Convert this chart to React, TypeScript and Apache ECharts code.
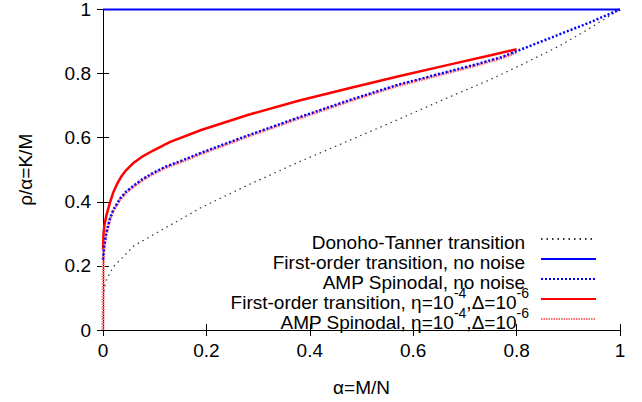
import React, { useEffect, useRef } from "react";
import * as echarts from "echarts";

// Donoho-Tanner transition
const dtAlpha = [0, 0.0005, 0.002, 0.006, 0.02, 0.06, 0.12, 0.19, 0.28, 0.38, 0.47, 0.57, 0.67, 0.75, 0.81, 0.88, 0.94, 1];
const dtRho = [0, 0.09, 0.125, 0.155, 0.197, 0.263, 0.318, 0.382, 0.452, 0.525, 0.587, 0.656, 0.727, 0.782, 0.828, 0.884, 0.94, 1];

// First-order transition, no noise
const foAlpha = [0, 1];
const foRho = [1, 1];

// AMP spinodal, no noise
const spAlpha = [0, 0.002, 0.006, 0.0135, 0.02, 0.033, 0.045, 0.059, 0.075, 0.091, 0.12, 0.155, 0.19, 0.28, 0.38, 0.48, 0.57, 0.67, 0.72, 0.77, 0.805, 0.8775, 0.942, 1];
const spRho = [0.22, 0.26, 0.3, 0.348, 0.375, 0.41, 0.432, 0.45, 0.469, 0.485, 0.509, 0.53, 0.553, 0.607, 0.664, 0.719, 0.765, 0.807, 0.828, 0.851, 0.873, 0.919, 0.96, 1];

// First-order transition with noise
const foNAlpha = [0, 0.001, 0.003, 0.007, 0.013, 0.02, 0.027, 0.035, 0.045, 0.058, 0.075, 0.097, 0.13, 0.19, 0.28, 0.38, 0.48, 0.57, 0.67, 0.75, 0.8];
const foNRho = [0.25, 0.3, 0.33, 0.36, 0.395, 0.43, 0.455, 0.478, 0.499, 0.52, 0.54, 0.56, 0.587, 0.624, 0.671, 0.716, 0.756, 0.791, 0.828, 0.857, 0.876];

// AMP spinodal with noise
const spNAlpha = [0, 0.0002, 0.0006, 0.002, 0.006, 0.0135, 0.02, 0.033, 0.045, 0.059, 0.075, 0.091, 0.12, 0.155, 0.19, 0.28, 0.38, 0.48, 0.57, 0.67, 0.72, 0.77, 0.8];
const spNRho = [0, 0.1, 0.2, 0.255, 0.297, 0.345, 0.372, 0.407, 0.429, 0.447, 0.466, 0.482, 0.506, 0.527, 0.55, 0.604, 0.661, 0.716, 0.762, 0.804, 0.825, 0.848, 0.866];

const seriesNames = [
  "Donoho-Tanner transition",
  "First-order transition, no noise",
  "AMP Spinodal, no noise",
  "First-order transition, η=10-4,Δ=10-6",
  "AMP Spinodal, η=10-4,Δ=10-6",
];
const legendRich: Record<string, string> = {
  [seriesNames[0]]: "{m|Donoho-Tanner transition}{s| }",
  [seriesNames[1]]: "{m|First-order transition, no noise}{s| }",
  [seriesNames[2]]: "{m|AMP Spinodal, no noise}{s| }",
  [seriesNames[3]]: "{m|First-order transition, η=10}{s|-4}{m|,Δ=10}{s|-6}",
  [seriesNames[4]]: "{m|AMP Spinodal, η=10}{s|-4}{m|,Δ=10}{s|-6}",
};

const FONT = "'Liberation Sans', Arial, Helvetica, sans-serif";

const zip = (a: number[], b: number[]) => a.map((x, i) => [x, b[i]]);

export default function App() {
  const ref = useRef<HTMLDivElement>(null);
  useEffect(() => {
    const chart = echarts.init(ref.current!, null, { renderer: "svg" });
    const axisCommon = {
      type: "value" as const,
      min: 0,
      max: 1,
      interval: 0.2,
      splitLine: { show: false },
      axisLine: { show: true, lineStyle: { color: "#000", width: 1 } },
      axisTick: { show: true, inside: true, length: 6, lineStyle: { color: "#000", width: 1 } },
    };
    chart.setOption({
      animation: false,
      backgroundColor: "#fff",
      grid: { left: 103, right: 22, top: 5, bottom: 67 },
      xAxis: [
        {
          ...axisCommon,
          position: "bottom",
          name: "α=M/N",
          nameLocation: "middle",
          nameGap: 48,
          nameTextStyle: { fontFamily: FONT, fontSize: 19, color: "#000" },
          axisLabel: { margin: 11, fontFamily: FONT, fontSize: 19, color: "#000" },
        },
        {
          ...axisCommon,
          position: "top",
          z: 10,
          axisLabel: { show: false },
        },
      ],
      yAxis: [
        {
          ...axisCommon,
          position: "left",
          name: "ρ/α=K/M",
          nameLocation: "middle",
          nameGap: 68,
          nameTextStyle: { fontFamily: FONT, fontSize: 19, color: "#000" },
          axisLabel: { margin: 12, fontFamily: FONT, fontSize: 19, color: "#000" },
        },
        {
          ...axisCommon,
          position: "right",
          axisLabel: { show: false },
        },
      ],
      legend: {
        data: seriesNames,
        orient: "vertical",
        align: "right",
        right: 40,
        top: 221,
        itemWidth: 55,
        itemHeight: 14,
        itemGap: -6,
        selectedMode: false,
        itemStyle: { color: "rgba(0,0,0,0)", borderWidth: 0, opacity: 0 },
        formatter: (name: string) => legendRich[name] ?? name,
        textStyle: {
          fontFamily: FONT,
          fontSize: 19,
          color: "#000",
          padding: [0, 7, 0, 0],
          rich: {
            m: { fontFamily: FONT, fontSize: 19, color: "#000", verticalAlign: "bottom" },
            s: { fontFamily: FONT, fontSize: 14, color: "#000", lineHeight: 26, verticalAlign: "top" },
          },
        },
      },
      series: [
        {
          name: seriesNames[0],
          type: "line",
          data: zip(dtAlpha, dtRho),
          symbol: "none",
          lineStyle: { color: "#333", width: 1.2, type: [1.5, 4] },
          itemStyle: { color: "#333" },
          z: 2,
        },
        {
          name: seriesNames[1],
          type: "line",
          data: zip(foAlpha, foRho),
          symbol: "none",
          clip: false,
          lineStyle: { color: "#0000ff", width: 2, type: "solid" },
          itemStyle: { color: "#0000ff" },
          z: 1,
        },
        {
          name: seriesNames[2],
          type: "line",
          data: zip(spAlpha, spRho),
          symbol: "none",
          lineStyle: { color: "#0000ff", width: 2.5, type: [2, 2] },
          itemStyle: { color: "#0000ff" },
          z: 4,
        },
        {
          name: seriesNames[3],
          type: "line",
          data: zip(foNAlpha, foNRho),
          symbol: "none",
          lineStyle: { color: "#ff0000", width: 2.5, type: "solid" },
          itemStyle: { color: "#ff0000" },
          z: 3,
        },
        {
          name: seriesNames[4],
          type: "line",
          data: zip(spNAlpha, spNRho),
          symbol: "none",
          lineStyle: { color: "#ff7070", width: 3, type: [1.5, 1] },
          itemStyle: { color: "#ff7070" },
          z: 3,
        },
      ],
    });
    return () => chart.dispose();
  }, []);
  return <div ref={ref} style={{ position: "fixed", left: 0, top: 0, width: 642, height: 402 }} />;
}
